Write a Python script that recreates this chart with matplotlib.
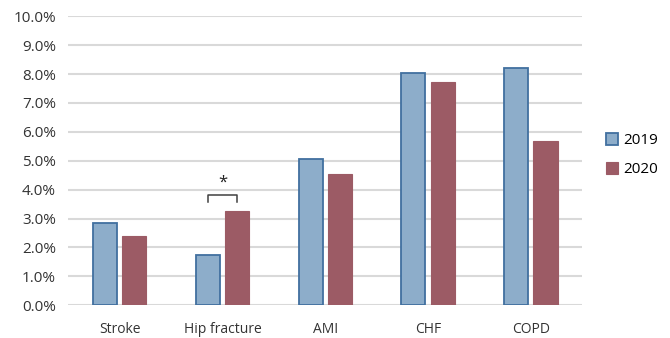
import numpy as np
import matplotlib.pyplot as plt
from matplotlib.ticker import PercentFormatter

plt.rcParams['font.family'] = ['Open Sans', 'DejaVu Sans']

categorias = ['Stroke', 'Hip fracture', 'AMI', 'CHF', 'COPD']
anios = ['2019', '2020']
v2019 = [2.85, 1.75, 5.05, 8.05, 8.22]
v2020 = [2.40, 3.27, 4.55, 7.73, 5.67]

azul = '#8DADCA'
borde_azul = '#41709F'
rojo = '#9C5B65'

fig = plt.figure(figsize=(6.7, 3.38), dpi=100)
ax = fig.add_axes([0.102, 0.097, 0.767, 0.855])

x = np.arange(len(categorias))
ancho = 0.235
sep = 0.05
ax.bar(x - (ancho + sep) / 2, v2019, ancho, color=azul, edgecolor=borde_azul,
       linewidth=1.3, label=anios[0], zorder=3)
ax.bar(x + (ancho + sep) / 2, v2020, ancho, color=rojo, edgecolor=rojo,
       linewidth=0.8, label=anios[1], zorder=3)

# corchete de significancia en Hip fracture
x1 = x[1] - (ancho + sep) / 2
x2 = x[1] + (ancho + sep) / 2
ax.plot([x1, x1, x2, x2], [3.58, 3.8, 3.8, 3.58], color='#404040', lw=1.1, zorder=4)
ax.text(x[1], 3.95, '*', ha='center', va='bottom', fontsize=12, color='#222222')

ax.set_xlim(-0.5, len(categorias) - 0.5)
ax.set_ylim(0, 10)
ax.set_yticks(np.arange(0, 11, 1))
ax.yaxis.set_major_formatter(PercentFormatter(decimals=1))
ax.set_xticks(x)
ax.set_xticklabels(categorias)
ax.grid(axis='y', color='#D9D9D9', lw=1.5, zorder=0)
for s in ax.spines.values():
    s.set_visible(False)
ax.tick_params(length=0, colors='#333333')
ax.tick_params(axis='x', pad=12, labelsize=10)
ax.tick_params(axis='y', pad=9, labelsize=11)

ax.legend(loc='center left', bbox_to_anchor=(1.02, 0.52), frameon=False,
          fontsize=11, handlelength=0.8, handleheight=0.8, handletextpad=0.3,
          labelspacing=0.9)

fig.savefig('out.png', dpi=100)
